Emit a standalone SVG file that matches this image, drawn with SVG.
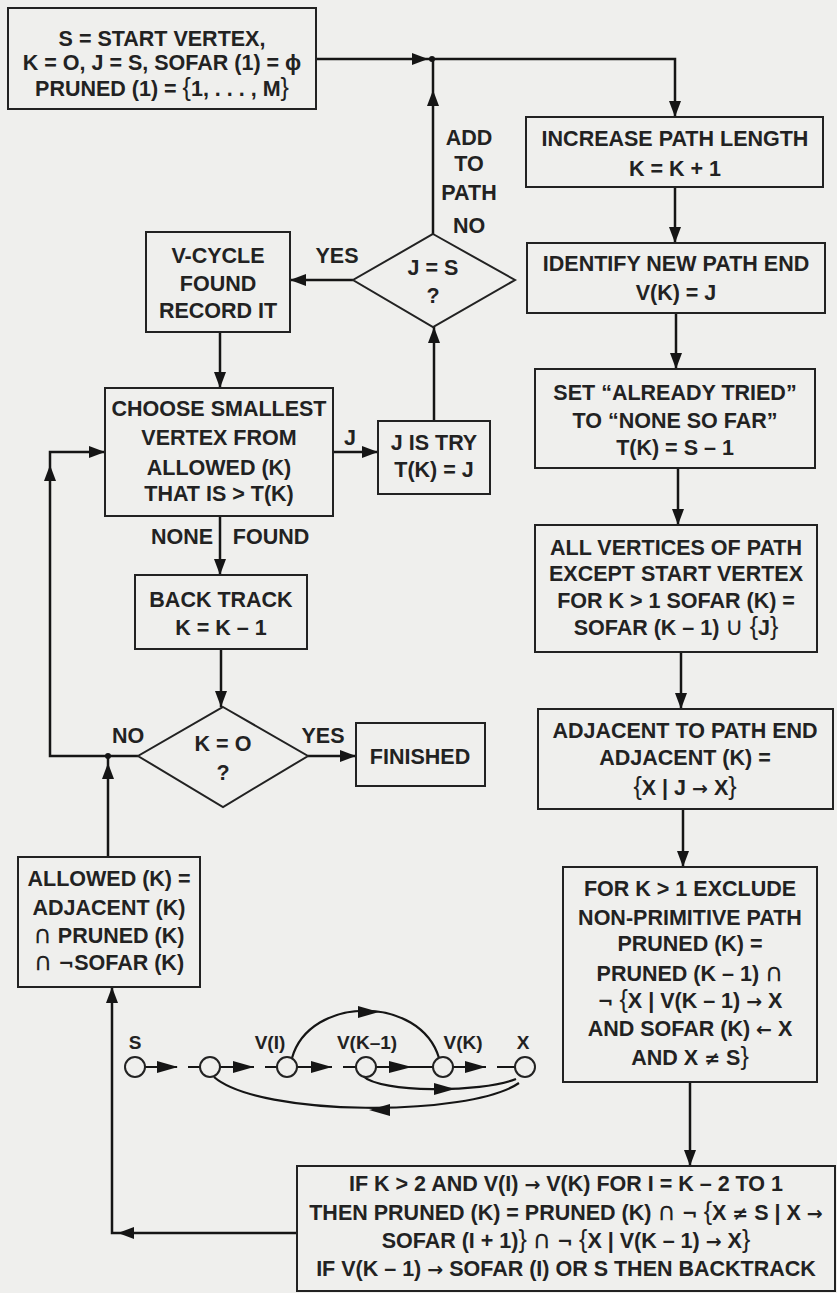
<svg xmlns="http://www.w3.org/2000/svg" width="837" height="1293" viewBox="0 0 837 1293">
<defs>
<style>
.box{fill:none;stroke:#222;stroke-width:2}
.t{font-family:"Liberation Sans",Arial,sans-serif;font-weight:bold;font-size:21.5px;fill:#222;text-anchor:middle}
.g{font-size:19px}
.br{font-size:25px;font-weight:normal}
.sy{font-family:"DejaVu Sans",sans-serif;font-size:19px}
.cp{font-family:"DejaVu Sans",sans-serif;font-size:25px;font-weight:normal}
.ln{fill:none;stroke:#151515;stroke-width:2.5}
.sl{fill:none;stroke:#151515;stroke-width:2.2}
.ah{fill:#151515}
.nd{fill:#efefed;stroke:#222;stroke-width:2}
</style>
<marker id="ar" markerWidth="16" markerHeight="12" refX="16" refY="6" orient="auto" markerUnits="userSpaceOnUse"><path d="M0,0 L16,6 L0,12 z" fill="#151515"/></marker>
</defs>
<rect width="837" height="1293" fill="#efefed"/>

<g id="connectors">
<path class="ln" d="M316,59 H428" marker-end="url(#ar)"/>
<path class="ln" d="M428,59 H675 V117" marker-end="url(#ar)"/>
<path class="ln" d="M433,234 V90" marker-end="url(#ar)"/>
<path class="ln" d="M433,90 V59"/>
<circle cx="432" cy="59" r="3" class="ah"/>
<path class="ln" d="M353,280 H290" marker-end="url(#ar)"/>
<path class="ln" d="M220,332 V388" marker-end="url(#ar)"/>
<path class="ln" d="M333,452 H378" marker-end="url(#ar)"/>
<path class="ln" d="M434,421 V327" marker-end="url(#ar)"/>
<path class="ln" d="M220,516 V575" marker-end="url(#ar)"/>
<path class="ln" d="M221,649 V707" marker-end="url(#ar)"/>
<path class="ln" d="M308,756 H356" marker-end="url(#ar)"/>
<path class="ln" d="M138,756 H50 V465" marker-end="url(#ar)"/>
<path class="ln" d="M50,465 V452 H105" marker-end="url(#ar)"/>
<path class="ln" d="M108,857 V763" marker-end="url(#ar)"/>
<path class="ln" d="M108,763 V756"/>
<circle cx="108" cy="756" r="3" class="ah"/>
<path class="ln" d="M297,1233 H118" marker-end="url(#ar)"/>
<path class="ln" d="M118,1233 H112 V987" marker-end="url(#ar)"/>
<path class="ln" d="M675,187 V243" marker-end="url(#ar)"/>
<path class="ln" d="M676,313 V369" marker-end="url(#ar)"/>
<path class="ln" d="M678,468 V525" marker-end="url(#ar)"/>
<path class="ln" d="M681,652 V709" marker-end="url(#ar)"/>
<path class="ln" d="M683,809 V867" marker-end="url(#ar)"/>
<path class="ln" d="M690,1082 V1166" marker-end="url(#ar)"/>
</g>

<g id="start">
<rect class="box" x="8" y="8" width="308" height="101"/>
<text class="t" x="162" y="46">S = START VERTEX,</text>
<text class="t" x="162" y="70">K = O, J = S, SOFAR (1) = ϕ</text>
<text class="t" x="162" y="96">PRUNED (1) = <tspan class="br">{</tspan>1, . . . , M<tspan class="br">}</tspan></text>
</g>

<g id="jeqs">
<polygon class="box" points="433,234 515,280 433,327 353,280"/>
<text class="t" x="433" y="275">J = S</text>
<text class="t" x="433" y="303">?</text>
<text class="t" x="469" y="145">ADD</text>
<text class="t" x="469" y="171">TO</text>
<text class="t" x="469" y="200">PATH</text>
<text class="t" x="469" y="233">NO</text>
<text class="t" x="337" y="263">YES</text>
</g>

<g id="vcycle">
<rect class="box" x="146" y="232" width="144" height="100"/>
<text class="t" x="218" y="263">V-CYCLE</text>
<text class="t" x="218" y="291">FOUND</text>
<text class="t" x="218" y="318">RECORD IT</text>
</g>

<g id="choose">
<rect class="box" x="105" y="388" width="228" height="128"/>
<text class="t" x="219" y="416">CHOOSE SMALLEST</text>
<text class="t" x="219" y="445">VERTEX FROM</text>
<text class="t" x="219" y="475">ALLOWED (K)</text>
<text class="t" x="219" y="501">THAT IS &gt; T(K)</text>
<text class="t" x="350" y="445">J</text>
<text class="t" x="182" y="544">NONE</text>
<text class="t" x="271" y="544">FOUND</text>
</g>

<g id="jistry">
<rect class="box" x="378" y="421" width="112" height="73"/>
<text class="t" x="434" y="450">J IS TRY</text>
<text class="t" x="434" y="477">T(K) = J</text>
</g>

<g id="backtrack">
<rect class="box" x="135" y="575" width="172" height="74"/>
<text class="t" x="221" y="607">BACK TRACK</text>
<text class="t" x="221" y="635">K = K – 1</text>
</g>

<g id="keq0">
<polygon class="box" points="223,707 308,756 223,807 138,756"/>
<text class="t" x="223" y="751">K = O</text>
<text class="t" x="223" y="780">?</text>
<text class="t" x="128" y="743">NO</text>
<text class="t" x="323" y="743">YES</text>
</g>

<g id="finished">
<rect class="box" x="356" y="723" width="129" height="63"/>
<text class="t" x="420" y="764">FINISHED</text>
</g>

<g id="allowed">
<rect class="box" x="18" y="857" width="182" height="130"/>
<text class="t" x="109" y="886">ALLOWED (K) =</text>
<text class="t" x="109" y="915">ADJACENT (K)</text>
<text class="t" x="109" y="943"><tspan class="cp">∩</tspan> PRUNED (K)</text>
<text class="t" x="109" y="970"><tspan class="cp">∩</tspan> <tspan class="sy">¬</tspan>SOFAR (K)</text>
</g>

<g id="increase">
<rect class="box" x="526" y="117" width="297" height="70"/>
<text class="t" x="675" y="146">INCREASE PATH LENGTH</text>
<text class="t" x="675" y="176">K = K + 1</text>
</g>

<g id="identify">
<rect class="box" x="527" y="243" width="298" height="70"/>
<text class="t" x="676" y="271">IDENTIFY NEW PATH END</text>
<text class="t" x="676" y="300">V(K) = J</text>
</g>

<g id="settried">
<rect class="box" x="535" y="369" width="280" height="99"/>
<text class="t" x="675" y="400">SET “ALREADY TRIED”</text>
<text class="t" x="675" y="428">TO “NONE SO FAR”</text>
<text class="t" x="675" y="455">T(K) = S – 1</text>
</g>

<g id="sofar">
<rect class="box" x="535" y="525" width="282" height="127"/>
<text class="t" x="676" y="555">ALL VERTICES OF PATH</text>
<text class="t" x="676" y="581">EXCEPT START VERTEX</text>
<text class="t" x="676" y="608">FOR K &gt; 1 SOFAR (K) =</text>
<text class="t" x="676" y="635">SOFAR (K – 1) <tspan class="cp">∪</tspan> <tspan class="br">{</tspan>J<tspan class="br">}</tspan></text>
</g>

<g id="adjacent">
<rect class="box" x="538" y="709" width="295" height="100"/>
<text class="t" x="685" y="738">ADJACENT TO PATH END</text>
<text class="t" x="685" y="765">ADJACENT (K) =</text>
<text class="t" x="685" y="795"><tspan class="br">{</tspan>X | J <tspan class="sy">→</tspan> X<tspan class="br">}</tspan></text>
</g>

<g id="pruned">
<rect class="box" x="563" y="867" width="254" height="215"/>
<text class="t" x="690" y="896">FOR K &gt;  1 EXCLUDE</text>
<text class="t" x="690" y="925">NON-PRIMITIVE PATH</text>
<text class="t" x="690" y="951">PRUNED (K) =</text>
<text class="t" x="690" y="981">PRUNED (K – 1) <tspan class="cp">∩</tspan></text>
<text class="t" x="690" y="1008"><tspan class="sy">¬</tspan> <tspan class="br">{</tspan>X | V(K – 1) <tspan class="sy">→</tspan>  X</text>
<text class="t" x="690" y="1036">AND SOFAR (K) <tspan class="sy">←</tspan> X</text>
<text class="t" x="690" y="1065">AND X <tspan class="sy">≠</tspan> S<tspan class="br">}</tspan></text>
</g>

<g id="prune2">
<rect class="box" x="297" y="1166" width="538" height="125"/>
<text class="t" x="566" y="1191">IF K &gt; 2 AND V(I) <tspan class="sy">→</tspan> V(K) FOR I = K – 2 TO 1</text>
<text class="t" x="566" y="1220">THEN PRUNED (K) = PRUNED (K) <tspan class="cp">∩</tspan> <tspan class="sy">¬</tspan> <tspan class="br">{</tspan>X <tspan class="sy">≠</tspan> S | X <tspan class="sy">→</tspan></text>
<text class="t" x="566" y="1248">SOFAR (I + 1)<tspan class="br">}</tspan> <tspan class="cp">∩</tspan> <tspan class="sy">¬</tspan> <tspan class="br">{</tspan>X | V(K – 1) <tspan class="sy">→</tspan> X<tspan class="br">}</tspan></text>
<text class="t" x="566" y="1276">IF V(K – 1) <tspan class="sy">→</tspan> SOFAR (I) OR S THEN BACKTRACK</text>
</g>

<g id="example">
<path class="sl" d="M145,1067 H177 M188,1067 H200"/>
<polygon class="ah" points="157,1061 178,1067 157,1073"/>
<path class="sl" d="M220,1067 H254 M265,1067 H277"/>
<polygon class="ah" points="233,1061 254,1067 233,1073"/>
<path class="sl" d="M297,1067 H332 M343,1067 H356"/>
<polygon class="ah" points="311,1061 332,1067 311,1073"/>
<path class="sl" d="M376,1067 H433"/>
<polygon class="ah" points="389,1061 412,1067 389,1073"/>
<path class="sl" d="M453,1067 H486 M497,1067 H515"/>
<polygon class="ah" points="465,1061 486,1067 465,1073"/>
<path class="sl" d="M292,1058 C310,995 420,995 439,1058"/>
<polygon class="ah" points="358,1006 379,1012 358,1018"/>
<path class="sl" d="M363,1076 C380,1093 480,1093 516,1079"/>
<polygon class="ah" points="434,1083 455,1089 434,1095"/>
<path class="sl" d="M519,1083 C470,1117 260,1117 214,1077"/>
<polygon class="ah" points="390,1104 369,1110 390,1116"/>
<circle class="nd" cx="135" cy="1067" r="10"/>
<circle class="nd" cx="210" cy="1067" r="10"/>
<circle class="nd" cx="287" cy="1067" r="10"/>
<circle class="nd" cx="366" cy="1067" r="10"/>
<circle class="nd" cx="443" cy="1067" r="10"/>
<circle class="nd" cx="525" cy="1067" r="10"/>
<text class="t g" x="135" y="1049">S</text>
<text class="t g" x="270" y="1049">V(I)</text>
<text class="t g" x="367" y="1049">V(K–1)</text>
<text class="t g" x="463" y="1049">V(K)</text>
<text class="t g" x="523" y="1049">X</text>
</g>
</svg>
